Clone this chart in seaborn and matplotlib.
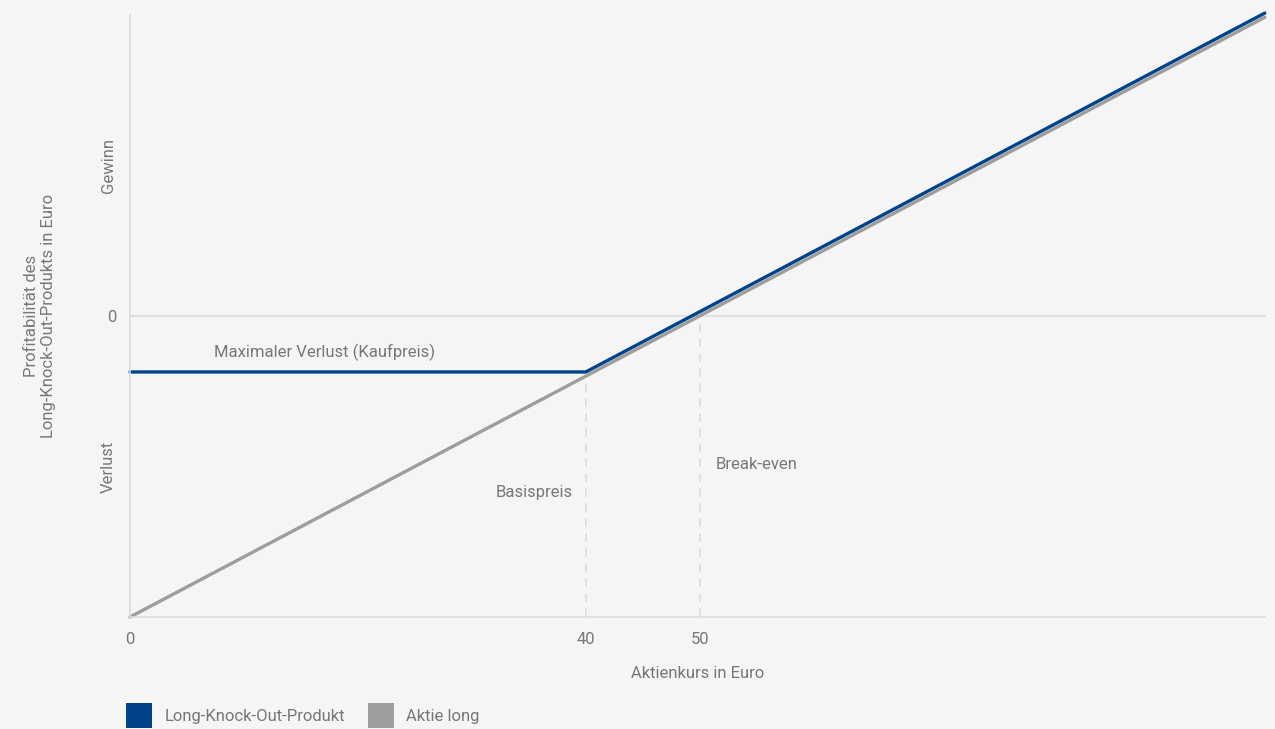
import numpy as np
import pandas as pd
import matplotlib
matplotlib.use("Agg")
import matplotlib.pyplot as plt
from matplotlib.patches import Patch
import seaborn as sns

# ---- data ----
series_names = ["Long-Knock-Out-Produkt", "Aktie long"]
ko_x = [0, 40, 99.6]
ko_y = [-9.3, -9.3, 50.3]
stock_x = [0, 99.6]
stock_y = [-50, 49.6]
strike = 40
breakeven = 50
x_ticks = [0, 40, 50]
y_ticks = [-25, 0, 25]
y_tick_labels = ["Verlust", "0", "Gewinn"]

BLUE = "#00438a"
GREY = "#9d9d9c"
TXT = "#777777"
BG = "#f5f5f5"
LINE = "#dcdcdc"
FS = 12

sns.set_theme(style="white")
plt.rcParams["font.family"] = ["Roboto", "DejaVu Sans"]

df = pd.concat([
    pd.DataFrame({"x": ko_x, "y": ko_y, "s": series_names[0]}),
    pd.DataFrame({"x": stock_x, "y": stock_y, "s": series_names[1]}),
])

fig = plt.figure(figsize=(12.75, 7.29), dpi=100, facecolor=BG)
ax = fig.add_axes([0.102, 0.1536, 0.890, 0.826])
ax.set_facecolor(BG)

ax.set_xlim(0, 99.6)
ax.set_ylim(-50, 50)

ax.axhline(0, color=LINE, lw=1.2, zorder=1)
# dashed guide lines
for xv in (strike, breakeven):
    yv = np.interp(xv, stock_x, stock_y)
    ax.plot([xv, xv], [-50, yv], color=LINE, lw=1.2, ls=(0, (5, 4)), zorder=1)

sns.lineplot(data=df, x="x", y="y", hue="s", hue_order=[series_names[1], series_names[0]],
             palette={series_names[0]: BLUE, series_names[1]: GREY},
             ax=ax, legend=False, lw=2.4, sort=False, estimator=None)
for l in ax.get_lines():
    l.set_clip_on(False)

for sp in ["top", "right"]:
    ax.spines[sp].set_visible(False)
for sp in ["left", "bottom"]:
    ax.spines[sp].set_color(LINE)
    ax.spines[sp].set_linewidth(1.2)

ax.set_xticks(x_ticks)
ax.set_xticklabels([str(v) for v in x_ticks])
ax.set_yticks(y_ticks)
ax.set_yticklabels(y_tick_labels)
for lab, txt in zip(ax.get_yticklabels(), y_tick_labels):
    if txt != "0":
        lab.set_rotation(90)
        lab.set_va("center")
ax.tick_params(axis="both", length=0, colors=TXT, labelsize=FS)
ax.tick_params(axis="y", pad=10)
ax.tick_params(axis="x", pad=11)

ax.set_xlabel("Aktienkurs in Euro", color=TXT, fontsize=FS)
ax.xaxis.set_label_coords(0.5, -0.082)
ax.set_ylabel("Profitabilität des\nLong-Knock-Out-Produkts in Euro", color=TXT, fontsize=FS)
ax.yaxis.set_label_coords(-0.065, 0.5)

ax.text(17.1, -6.0, "Maximaler Verlust (Kaufpreis)", color=TXT, fontsize=FS, ha="center", va="center")
ax.text(38.9, -29.3, "Basispreis", color=TXT, fontsize=FS, ha="right", va="center")
ax.text(51.4, -24.7, "Break-even", color=TXT, fontsize=FS, ha="left", va="center")

handles = [Patch(facecolor=BLUE, edgecolor="none"), Patch(facecolor=GREY, edgecolor="none")]
fig.legend(handles, series_names, loc="lower left", bbox_to_anchor=(0.087, -0.0195), ncol=2,
           frameon=False, handlelength=1.55, handleheight=1.95, handletextpad=0.75, columnspacing=1.4,
           fontsize=FS, labelcolor=TXT)

fig.savefig("out.png", dpi=100, facecolor=BG)
